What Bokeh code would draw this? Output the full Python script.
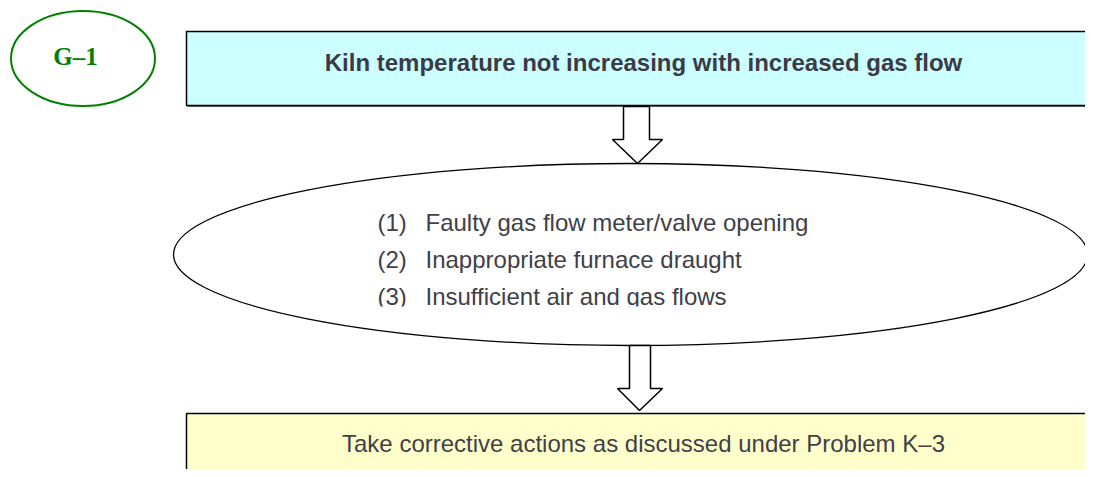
from bokeh.plotting import figure
from bokeh.models import Range1d
from bokeh.core.properties import value
from bokeh.embed import file_html
from bokeh.resources import INLINE

# ---- content ----
tag_label = ["G\u20131"]
problem_text = ["Kiln temperature not increasing with increased gas flow"]
cause_numbers = ["(1)", "(2)", "(3)"]
cause_texts = ["Faulty gas flow meter/valve opening",
               "Inappropriate furnace draught",
               "Insufficient air and gas flows"]
action_text = ["Take corrective actions as discussed under Problem K\u20133"]

W, H = 1085, 469
p = figure(width=W, height=H, output_backend="svg", toolbar_location=None,
           x_range=Range1d(0, W), y_range=Range1d(H, 0),
           min_border=0, outline_line_color=None, background_fill_color="white")
p.axis.visible = False
p.grid.visible = False

# G-1 tag ellipse
p.ellipse(x=[82.5], y=[58], width=[144], height=[95], fill_color="white",
          line_color="#008000", line_width=2)
p.text(x=[75], y=[56], text=tag_label, text_align="center", text_baseline="alphabetic",
       text_font=value("Liberation Serif"), text_font_style="bold", text_font_size="25px",
       text_color="#008000")

# top problem box
p.quad(left=[186], right=[1120], top=[31], bottom=[105], fill_color="#CCFFFF",
       line_color="black", line_width=1.5)
p.line(x=[187, 1120], y=[106, 106], line_color="#555555", line_width=1)
p.text(x=[643], y=[62], text=problem_text, text_align="center", text_baseline="alphabetic",
       text_font=value("Liberation Sans"), text_font_style="bold", text_font_size="24px",
       text_color="#3a3a48")

# arrow 1
p.patch(x=[623, 623, 612, 637, 662, 649, 649], y=[106, 139, 139, 163, 139, 139, 106],
        fill_color="white", line_color="black", line_width=1.5)

# causes ellipse
p.ellipse(x=[630], y=[254], width=[914], height=[182], fill_color="white",
          line_color="black", line_width=1.3)
ys = [222, 259, 296]
p.text(x=[377] * 3, y=ys, text=cause_numbers, text_align="left", text_baseline="alphabetic",
       text_font=value("Liberation Sans"), text_font_size="24px", text_color="#404048")
p.text(x=[425] * 3, y=ys, text=cause_texts, text_align="left", text_baseline="alphabetic",
       text_font=value("Liberation Sans"), text_font_size="24px", text_color="#404048")
# clip of the last line (as in the original text frame)
p.quad(left=[370], right=[800], top=[306], bottom=[322], fill_color="white", line_color=None)

# arrow 2
p.patch(x=[629, 629, 617, 639, 662, 650, 650], y=[345, 388, 388, 410, 388, 388, 345],
        fill_color="white", line_color="black", line_width=1.5)

# action box
p.quad(left=[186], right=[1120], top=[413], bottom=[500], fill_color="#FFFFCC",
       line_color="black", line_width=1.5)
p.text(x=[643], y=[443], text=action_text, text_align="center", text_baseline="alphabetic",
       text_font=value("Liberation Sans"), text_font_size="24px", text_color="#404048")

open("out.html", "w").write(file_html(p, INLINE))
